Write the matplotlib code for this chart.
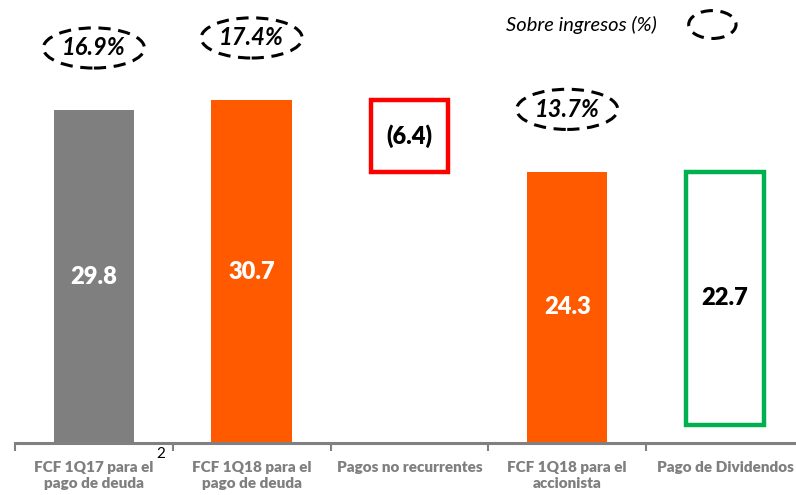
import matplotlib.pyplot as plt
from matplotlib.patches import Ellipse

# data
categories = ["FCF 1Q17 para el\npago de deuda", "FCF 1Q18 para el\npago de deuda",
              "Pagos no recurrentes", "FCF 1Q18 para el\naccionista", "Pago de Dividendos"]
bottoms = [0.0, 0.0, 24.3, 0.0, 1.6]
heights = [29.8, 30.7, 6.4, 24.3, 22.7]
value_labels = ["29.8", "30.7", "(6.4)", "24.3", "22.7"]
pct_labels = {0: "16.9%", 1: "17.4%", 3: "13.7%"}

face = ["#7f7f7f", "#ff5a00", "white", "#ff5a00", "white"]
edge = ["#7f7f7f", "#ff5a00", "#ff0000", "#ff5a00", "#00b050"]
txt_color = ["white", "white", "black", "white", "black"]
filled = [True, True, False, True, False]

plt.rcParams['font.family'] = ['Lato', 'DejaVu Sans']

fig = plt.figure(figsize=(7.96, 4.95), dpi=100)
ax = fig.add_axes([15 / 796, 52 / 495, 1 - 15 / 796, 443 / 495])
ax.set_xlim(-0.5, 4.45)
ax.set_ylim(0, 39.7)

x = list(range(len(categories)))
for i in x:
    lw = 0 if filled[i] else 3.2
    ax.bar(i, heights[i], bottom=bottoms[i], width=0.51 if filled[i] else 0.49,
           color=face[i], edgecolor=edge[i], linewidth=lw, zorder=2)
    ax.text(i, bottoms[i] + heights[i] / 2, value_labels[i], ha='center', va='center',
            fontsize=17, fontweight='heavy', color=txt_color[i], zorder=3)

# percentage ellipses above bars
for i, lab in pct_labels.items():
    top = bottoms[i] + heights[i]
    cy = top + 5.6
    ax.add_patch(Ellipse((i, cy), 0.64, 3.6, fill=False, edgecolor='black',
                         linewidth=2.2, linestyle=(0, (4, 2.5)), clip_on=False))
    ax.text(i, cy, lab, ha='center', va='center', fontsize=17, fontweight='bold',
            fontstyle='italic', color='black')

# legend
ax.text(3.57, 37.5, "Sobre ingresos (%)", ha='right', va='center', fontsize=14.5,
        fontstyle='italic', color='black')
ax.add_patch(Ellipse((3.92, 37.5), 0.3, 2.5, fill=False, edgecolor='black',
                     linewidth=2.2, linestyle=(0, (4, 2.5)), clip_on=False))

# axes styling
for s in ['top', 'right', 'left']:
    ax.spines[s].set_visible(False)
ax.spines['bottom'].set_color('#808080')
ax.spines['bottom'].set_linewidth(2.2)
ax.set_yticks([])
ax.set_xticks([i - 0.5 for i in x], minor=False)
ax.set_xticklabels([])
ax.tick_params(axis='x', which='major', direction='out', length=6, width=1.5, color='#808080')
ax.set_xticks(x, minor=True)
ax.set_xticklabels(categories, minor=True, fontsize=11, fontweight='heavy', color='#7f7f7f',
                   linespacing=1.3)
ax.tick_params(axis='x', which='minor', length=0, pad=13)

fig.text(161 / 796, 1 - 454 / 495, "2", fontsize=11, ha='center', va='center', color='black')

fig.savefig("out.png", dpi=100)
